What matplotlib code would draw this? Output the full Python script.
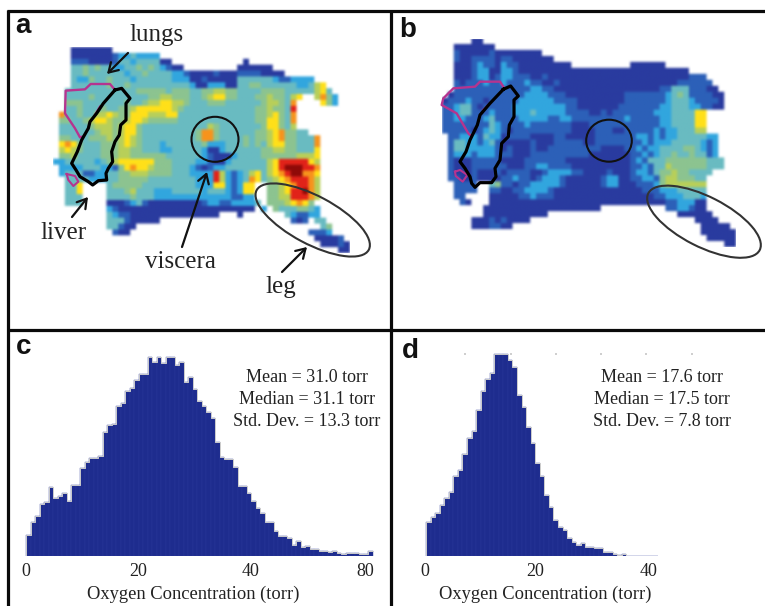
import numpy as np
import matplotlib
matplotlib.use("Agg")
import matplotlib.pyplot as plt
from matplotlib.colors import ListedColormap
from matplotlib.patches import Ellipse

W, H = 765, 606
SERIF = "Liberation Serif"
SANS = "Liberation Sans"

# ---- data: oxygen maps, one digit per voxel, level 0 (low) to 9 (high), '.' = no signal
#        (spaces only group the columns in tens)
MAP_A = [
    "...0000000",
    "...0000000 12232222..",
    "...1110000 1332333300 .......... ..0.......",
    "...3343433 2233434321 00........ .000000...",
    "...3343333 3323343333 2210000100 011110000.",
    "...3224334 3332333333 2220010000 0333333211 2222......",
    "...3333334 3343333333 3332002220 0334433333 322356....",
    "..33333333 3333444443 4443344554 4333344443 3333563...",
    "..33334333 3333334455 4443345664 4333445443 56..5742..",
    "..44433333 3343345566 5543334443 3333345543 7....642..",
    "..33433343 3445666666 5433333333 3333445443 8.........",
    ".733433556 5446665556 6333333333 3333445643 7.........",
    ".443345665 4456654444 4333333333 3333446643 7.........",
    ".333334555 4566433333 3333335433 3333346643 5.........",
    ".333333455 4566433333 3333477433 3333445674 433.......",
    ".443334445 4565433333 3333477433 3343445674 43337.....",
    ".676433344 4565433323 3333342223 3343435664 43337.....",
    ".565433344 4554433322 3333320023 3333344554 43336.....",
    ".445333344 4554444443 3333321000 2333344444 45556.....",
    "2233333234 5666666444 3333221002 3333335688 88865.....",
    ".222233322 1467665444 3332101223 3333335689 99887.....",
    ".233311223 3445554444 3332222852 1235635678 99776.....",
    "..33332223 3444443333 3333222852 1237634567 88875.....",
    "..336....3 4444433333 3333222662 1266..4456 78875.....",
    "..336....3 3345333222 3333323332 1266..4456 88975.....",
    "..333....3 3334333222 2222222222 1122..4455 88875.....",
    "..333....0 0012310000 0000012211 22223.4445 6764......",
    ".........2 1000000000 0000000000 0000.2.433 34432.....",
    ".........3 2110000000 00000000.. .0.......3 21122.....",
    ".........3 33100000.. .......... .......... 101.33....",
    ".........3 3100...... .......... .......... .....34...",
    "..........  100...... .......... .......... ....1112..",
    ".......... .......... .......... .......... ....00001.",
    ".......... .......... .......... .......... .....00010",
    ".......... .......... .......... .......... ........00",
]
MAP_B = [
    ".....00...",
    "..0000000.",
    "..10000010 0000000...",
    "..10011110 110000000.",
    "..00012110 2110000000 00........ ..000000..",
    "..00012200 2210000000 0000000000 0000000000 00........",
    "..00012201 2211100100 0000000000 0000000000 00111.....",
    "..10111211 2111211001 0000000000 0000000000 111111....",
    "..11111111 1111122110 0000000000 0000000113 3311100...",
    ".011111111 1111222211 1000000000 0111111123 43111100..",
    "0111211011 1112222221 1110000000 0111111123 33211110..",
    "1123310111 1122222222 2110000000 1111111223 33221100..",
    "1123311121 1122232222 2111100101 1111112223 33366.....",
    "1122111231 1112222211 2211111111 1211111223 33366.....",
    "1111111132 1111211111 1100011111 1111111223 33366.....",
    "1111101232 1011111111 1100001110 0111112122 33355.....",
    ".112221322 0111100001 1000001111 1112212122 3333322...",
    ".133221231 0000010001 1111001111 1111212223 3333212...",
    ".133222221 0100010011 1111111000 0112122333 3443212...",
    ".122212221 1100011111 1111100000 0011212334 3343312...",
    ".100011111 0000111111 1000000000 0012133344 44444333..",
    ".100011111 1000112211 1100000000 0011213354 44444333..",
    ".100010001 0111100122 2211000010 0012213445 443333....",
    ".110010000 1121101222 1000000122 0011221455 44433.....",
    "..1111..34 1101122222 1000000122 0001112455 55555.....",
    "..1111..11 0011222210 0000000000 0000111222 33333.....",
    "..11....00 0001121110 0000000000 0000001122 23332.....",
    "...10...00 0000000000 0000000000 0000000011 22200.....",
    ".......000 0000000000 0000000... ........11 22100.....",
    ".......000 00000000.. .......... .......... 000000....",
    ".....00010 10000..... .......... .......... ...0000...",
    ".....00011 00........ .......... .......... ....00000.",
    ".......... .......... .......... .......... ....000000",
    ".......... .......... .......... .......... .....00000",
    ".......... .......... .......... .......... ........00",
]
MAP_COLORS = ["#2a3b9f", "#2c60b8", "#32a6df", "#69bbc2", "#8cc490",
              "#b8cf5a", "#ffe01a", "#f7941d", "#e2231a", "#8f0a08"]

# ---- data: histograms (relative voxel counts per bin)
COUNTS_C = [63, 103, 120, 156, 163, 208, 173, 181, 188, 166, 213, 213, 263, 283, 294, 295,
            300, 373, 393, 395, 450, 460, 495, 503, 528, 546, 546, 596, 581, 596, 578, 596,
            596, 573, 583, 523, 536, 500, 466, 450, 433, 413, 343, 298, 290, 290, 266, 210,
            210, 190, 166, 143, 130, 103, 103, 75, 61, 61, 53, 33, 45, 28, 30, 21, 21, 14,
            14, 13, 14, 10, 6, 8, 8, 8, 7, 6, 14]
COUNTS_D = [101, 116, 128, 153, 173, 192, 240, 258, 305, 353, 376, 438, 495, 531, 550, 605,
            605, 605, 588, 566, 483, 448, 388, 338, 278, 241, 183, 148, 108, 86, 78, 55, 41,
            33, 38, 26, 26, 23, 23, 11, 11, 7, 4, 6, 1, 1, 1, 1, 1, 1, 1]
TICKS_C = [0, 20, 40, 60.5]
TICK_LABELS_C = ["0", "20", "40", "80"]
TICKS_D = [-0.2, 19.5, 39.8]
TICK_LABELS_D = ["0", "20", "40"]
XLABEL = "Oxygen Concentration (torr)"
STATS_C = ["Mean = 31.0 torr", "Median = 31.1 torr", "Std. Dev. = 13.3 torr"]
STATS_D = ["Mean = 17.6 torr", "Median = 17.5 torr", "Std. Dev. = 7.8 torr"]

fig = plt.figure(figsize=(W / 100, H / 100), dpi=100, facecolor="white")


def px_axes(l, t, r, b):
    return fig.add_axes([l / W, 1 - b / H, (r - l) / W, (b - t) / H])


def decode(rows):
    cleaned = [r.replace(" ", "").ljust(50, ".")[:50] for r in rows]
    return np.array([[np.nan if ch == "." else int(ch) for ch in r] for r in cleaned])


def heat(rows, rect):
    # The source map is a slightly soft rendition: colour the levels, then soften a little.
    ax = px_axes(*rect)
    cmap = ListedColormap(MAP_COLORS)
    cmap.set_bad((1, 1, 1, 1))
    rgb = cmap(np.ma.masked_invalid(decode(rows)) / 9.0)[..., :3]
    rgb = rgb.repeat(6, axis=0).repeat(6, axis=1)
    pad = np.pad(rgb, ((3, 3), (3, 3), (0, 0)), mode="constant", constant_values=1.0)
    k = np.array([1, 2, 3, 2, 1], float)
    k /= k.sum()
    pad = np.apply_along_axis(lambda v: np.convolve(v, k, mode="same"), 0, pad)
    pad = np.apply_along_axis(lambda v: np.convolve(v, k, mode="same"), 1, pad)
    ax.imshow(pad[3:-3, 3:-3], aspect="auto", interpolation="bilinear")
    ax.axis("off")


def hist(counts, rect, x0_px, bin_w, ticks, labels, label_cx):
    ax = px_axes(*rect)
    ppu = 5.6
    edges = np.arange(len(counts) + 1) * bin_w
    ax.bar(edges[:-1], counts, width=bin_w, align="edge", color="#1e2c8e",
           edgecolor="#2c3a9a", linewidth=0.3)
    ax.step(np.r_[edges[0], edges], np.r_[0, counts, counts[-1]], where="post",
            color="#cccccc", lw=0.7)
    ax.set_xlim((rect[0] - x0_px) / ppu, (rect[2] - x0_px) / ppu)
    ax.set_ylim(0, (rect[3] - rect[1]) * 3)
    ax.set_yticks([])
    ax.set_xticks(ticks)
    ax.set_xticklabels(labels, family=SERIF, fontsize=13, color="#222222")
    ax.tick_params(axis="x", length=0, pad=5)
    ax.set_xlabel(XLABEL, family=SERIF, fontsize=13.3, color="#222222", labelpad=4)
    ax.xaxis.label.set_x((label_cx - rect[0]) / (rect[2] - rect[0]))
    for s in ax.spines.values():
        s.set_visible(False)
    ax.patch.set_alpha(0)
    return ax


heat(MAP_A, (53.3, 46.7, 349.8, 252.7))
heat(MAP_B, (441.7, 38.7, 735.0, 247.3))
hist(COUNTS_C, (20, 350, 380, 556), 26.3, 0.8036, TICKS_C, TICK_LABELS_C, 193)
hist(COUNTS_D, (420, 350, 668, 556), 426.0, 0.8125, TICKS_D, TICK_LABELS_D, 545.5)

ov = fig.add_axes([0, 0, 1, 1], zorder=10)
ov.set_xlim(0, W)
ov.set_ylim(H, 0)
ov.axis("off")

# frame
for xs, ys in [((7, 765), (11, 11)), ((8.5, 8.5), (10, 606)), ((391, 391), (10, 606)),
               ((7, 765), (330, 330))]:
    ov.plot(xs, ys, color="#0a0a0a", lw=2.3, solid_capstyle="butt")

PINK = "#b5348f"


def z(points, dx=0, dy=0):
    a = np.array(points, float) / 3
    return a[:, 0] + dx, a[:, 1] + dy


# panel a contours
ov.plot(*z([(345, 270), (330, 252), (272, 252), (255, 268), (197, 272), (195, 340), (225, 385),
            (240, 412), (248, 410)]), color=PINK, lw=1.7)
ov.plot(*z([(300, 320), (285, 345)]), color=PINK, lw=1.7)
ov.plot(*z([(200, 522), (225, 528), (235, 545), (220, 558), (205, 540), (200, 522)]), color=PINK, lw=1.5)
ov.plot(*z([(345, 270), (365, 265), (390, 295), (378, 310), (378, 360), (362, 375), (358, 405),
            (345, 425), (335, 455), (338, 485), (325, 505), (318, 520), (320, 540), (295, 542),
            (278, 555), (265, 545), (240, 530), (228, 510), (215, 490), (232, 455), (245, 420),
            (265, 385), (270, 365), (290, 340), (310, 310), (345, 270)]), color="black", lw=2.3)
ov.add_patch(Ellipse((215, 139.3), 47, 45, fill=False, ec="#111111", lw=1.5))
ov.add_patch(Ellipse((312.7, 220), 127, 48, angle=28, fill=False, ec="#333333", lw=1.5))

# panel b contours
ov.plot(*z([(340, 260), (330, 245), (270, 245), (255, 260), (190, 265), (160, 295), (155, 315),
            (200, 340), (235, 400), (240, 405)], dx=390), color=PINK, lw=1.7)
ov.plot(*z([(280, 330), (300, 310)], dx=390), color=PINK, lw=1.7)
ov.plot(*z([(195, 515), (210, 510), (232, 525), (218, 545), (197, 528), (195, 515)], dx=390),
        color=PINK, lw=1.5)
ov.plot(*z([(340, 268), (362, 258), (385, 288), (372, 300), (372, 350), (358, 375), (355, 410),
            (335, 430), (330, 480), (315, 505), (318, 530), (305, 548), (270, 548), (255, 562),
            (245, 550), (240, 530), (225, 505), (210, 485), (228, 455), (240, 420), (262, 375),
            (270, 345), (300, 310), (340, 268)], dx=390), color="black", lw=2.3)
ov.add_patch(Ellipse((609, 140.7), 45.6, 42, fill=False, ec="#111111", lw=1.5))
ov.add_patch(Ellipse((704, 221.7), 125, 50, angle=27, fill=False, ec="#333333", lw=1.5))

# labels with arrows
for label, xy, tail, txt in [("lungs", (107, 74), (128, 53), (157, 35)),
                             ("liver", (88, 197), (72, 217), (64, 233)),
                             ("viscera", (207, 172), (182, 247), (180, 262)),
                             ("leg", (307, 247), (282, 272), (281, 287))]:
    ov.annotate("", xy=xy, xytext=tail,
                arrowprops=dict(arrowstyle="->,head_length=0.65,head_width=0.4", color="#111111",
                                lw=1.6, shrinkA=0, shrinkB=0))
    ov.text(*txt, label, family=SERIF, fontsize=18, color="#222222", ha="center", va="center")

# panel letters
for ch, x, y in [("a", 15, 33), ("b", 399, 37), ("c", 16, 353.5), ("d", 402, 358)]:
    ov.text(x, y, ch, family=SANS, fontweight="bold", fontsize=20, color="#111111",
            ha="left", va="baseline")

# statistics
for lines, cx in [(STATS_C, 307), (STATS_D, 661.7)]:
    for line, y in zip(lines, (377, 399, 421)):
        ov.text(cx, y, line, family=SERIF, fontsize=13, color="#222222", ha="center", va="center")

# faint top marks in panel d
ov.scatter([465, 510.7, 556, 600.7, 646, 691.7], [354] * 6, s=2, marker="s", color="#cfcfcf", lw=0)

fig.savefig("out.png", dpi=100)
